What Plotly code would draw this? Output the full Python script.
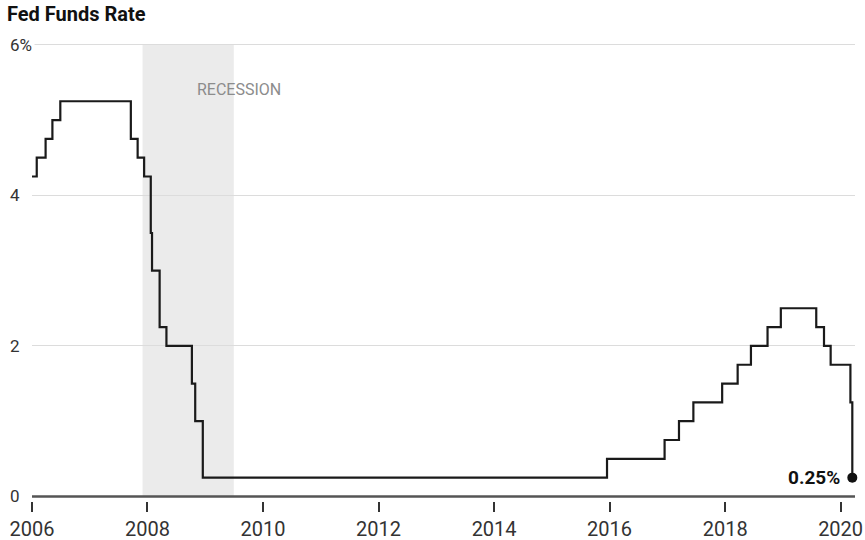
import plotly.graph_objects as go

# Federal funds target rate (upper bound), dates of each change
dates = [
    "2006-01-01", "2006-01-31", "2006-03-28", "2006-05-10", "2006-06-29",
    "2007-09-18", "2007-10-31", "2007-12-11", "2008-01-22", "2008-01-30",
    "2008-03-18", "2008-04-30", "2008-10-08", "2008-10-29", "2008-12-16",
    "2015-12-16", "2016-12-14", "2017-03-15", "2017-06-14", "2017-12-13",
    "2018-03-21", "2018-06-13", "2018-09-26", "2018-12-19", "2019-07-31",
    "2019-09-18", "2019-10-30", "2020-03-03", "2020-03-15",
]
rates = [
    4.25, 4.50, 4.75, 5.00, 5.25,
    4.75, 4.50, 4.25, 3.50, 3.00,
    2.25, 2.00, 1.50, 1.00, 0.25,
    0.50, 0.75, 1.00, 1.25, 1.50,
    1.75, 2.00, 2.25, 2.50, 2.25,
    2.00, 1.75, 1.25, 0.25,
]

recession = ("2007-12-01", "2009-06-30")

x_tick_vals = ["2006-01-01", "2008-01-01", "2010-01-01", "2012-01-01",
               "2014-01-01", "2016-01-01", "2018-01-01", "2020-01-01"]
x_tick_text = ["2006", "2008", "2010", "2012", "2014", "2016", "2018", "2020"]
y_tick_vals = [0, 2, 4, 6]
y_tick_text = ["0", "2", "4", "6%"]

FONT = "Roboto"
LINE = "#1a1a1a"

fig = go.Figure()

# Recession band
fig.add_shape(type="rect", xref="x", yref="y",
              x0=recession[0], x1=recession[1], y0=0, y1=6,
              fillcolor="#ebebeb", line_width=0, layer="below")
# Baseline at zero
fig.add_shape(type="line", xref="paper", yref="y", x0=0, x1=1, y0=0, y1=0,
              line=dict(color="#555", width=2.5), layer="above")

fig.add_trace(go.Scatter(
    x=dates, y=rates, mode="lines", line=dict(color=LINE, width=2.2, shape="hv"),
    hoverinfo="skip", showlegend=False,
))
fig.add_trace(go.Scatter(
    x=[dates[-1]], y=[rates[-1]], mode="markers",
    marker=dict(color="#111", size=10), cliponaxis=False,
    hoverinfo="skip", showlegend=False,
))

annotations = [
    dict(x="2008-10-25", y=5.4, xref="x", yref="y", text="RECESSION",
         showarrow=False, xanchor="left", yanchor="middle",
         font=dict(family=FONT, size=16, color="#8c8c8c")),
    dict(x=dates[-1], y=rates[-1], xref="x", yref="y",
         text=f"<b>{rates[-1]:.2f}%</b>", showarrow=False,
         xanchor="right", yanchor="middle", xshift=-10,
         font=dict(family=FONT, size=19, color="#111")),
]
# Left-aligned value labels for the horizontal gridlines
for v, t in zip(y_tick_vals, y_tick_text):
    annotations.append(dict(
        x=0, y=v, xref="paper", yref="y", text=t, showarrow=False,
        xanchor="left", yanchor="middle", xshift=-25,
        bgcolor="white" if v == 6 else None, borderpad=2,
        font=dict(family=FONT, size=17, color="#333"),
    ))

fig.update_layout(
    width=865, height=540,
    margin=dict(l=32, r=10, t=41, b=39),
    paper_bgcolor="white", plot_bgcolor="white",
    title=dict(text="<b>Fed Funds Rate</b>", x=7 / 865, xref="container",
               xanchor="left", y=1 - 14 / 540, yanchor="middle",
               font=dict(family=FONT, size=20, color="#111")),
    annotations=annotations,
    xaxis=dict(
        type="date", range=["2006-01-01", "2020-04-01"],
        tickvals=x_tick_vals, ticktext=x_tick_text,
        ticks="outside", ticklen=10, tickwidth=2, tickcolor="#333",
        showgrid=False, zeroline=False, showline=False, automargin=False,
        tickfont=dict(family=FONT, size=20, color="#333"),
    ),
    yaxis=dict(
        range=[-0.06, 6.05], tickvals=y_tick_vals, showticklabels=False,
        showgrid=True, gridcolor="#dcdcdc", gridwidth=1,
        zeroline=False, showline=False, ticks="", automargin=False,
    ),
)

fig.write_html("out.html")
